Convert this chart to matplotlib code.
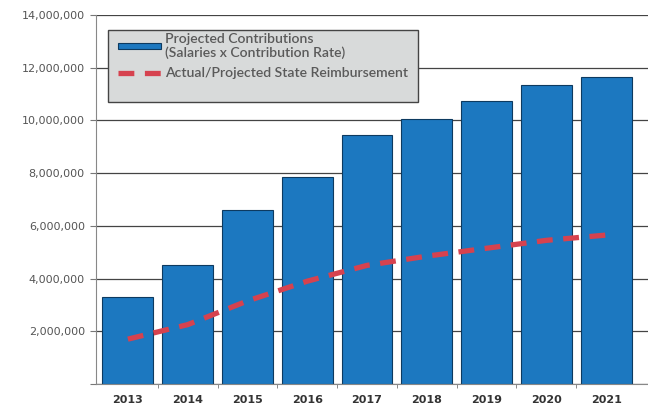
import numpy as np
import matplotlib
matplotlib.use("Agg")
import matplotlib.pyplot as plt
from matplotlib.patches import Rectangle
from matplotlib.ticker import FuncFormatter, FixedLocator

YEARS = ["2013", "2014", "2015", "2016", "2017", "2018", "2019", "2020", "2021"]
CONTRIB = [3300000, 4500000, 6600000, 7850000, 9450000, 10050000, 10750000, 11350000, 11650000]
REIMB = [1700000, 2250000, 3150000, 3900000, 4500000, 4850000, 5150000, 5450000, 5650000]

BAR_LABEL = "Projected Contributions\n(Salaries x Contribution Rate)"
LINE_LABEL = "Actual/Projected State Reimbursement"

fig = plt.figure(figsize=(6.48, 4.08), dpi=100)
ax = fig.add_axes([0.148, 0.059, 0.852, 0.904])

x = np.arange(len(YEARS))
bars = ax.bar(x, CONTRIB, width=0.85, color="#1c78c0", edgecolor="#0d3a60",
              linewidth=0.8, label=BAR_LABEL, zorder=2)
line, = ax.plot(x, REIMB, color="#d6424f", linewidth=3.8, dashes=(3, 2),
                label=LINE_LABEL, zorder=3)

ax.set_xlim(-0.535, 8.7)
ax.set_ylim(0, 14000000)
ax.set_yticks(range(0, 14000001, 2000000))
ax.yaxis.set_major_formatter(
    FuncFormatter(lambda v, p: "" if v == 0 else f"{int(v):,}"))
ax.grid(axis="y", color="#444444", linewidth=0.9, zorder=0)
ax.set_axisbelow(True)

ax.set_xticks(x)
ax.set_xticklabels(YEARS, fontsize=8, fontweight="bold", color="#333333")
ax.tick_params(axis="x", length=0, pad=8)
ax.xaxis.set_minor_locator(FixedLocator(x[:-1] + 0.5))
ax.tick_params(axis="x", which="minor", length=3, color="#777777")
ax.tick_params(axis="y", labelsize=8, labelcolor="#555555", length=4,
               color="#777777", pad=4)

for s in ["top", "right"]:
    ax.spines[s].set_visible(False)
ax.spines["left"].set_color("#888888")
ax.spines["bottom"].set_color("#888888")

# legend box is taller than the entries, so draw the frame separately
box = Rectangle((0.022, 0.764), 0.561, 0.195, transform=ax.transAxes,
                facecolor="#d8dada", edgecolor="#444444", linewidth=1.0,
                zorder=4)
ax.add_patch(box)
leg = ax.legend(handles=[bars, line], loc="upper left",
                bbox_to_anchor=(0.033, 0.962),
                prop={"family": "Lato", "size": 10.1, "weight": "semibold"},
                frameon=False, borderpad=0.25, labelspacing=0.55,
                handlelength=3.1, handleheight=0.3, handletextpad=0.3,
                borderaxespad=0)
leg.set_zorder(5)
for t in leg.get_texts():
    t.set_color("#5a5a5a")

fig.savefig("out.png", dpi=100)
